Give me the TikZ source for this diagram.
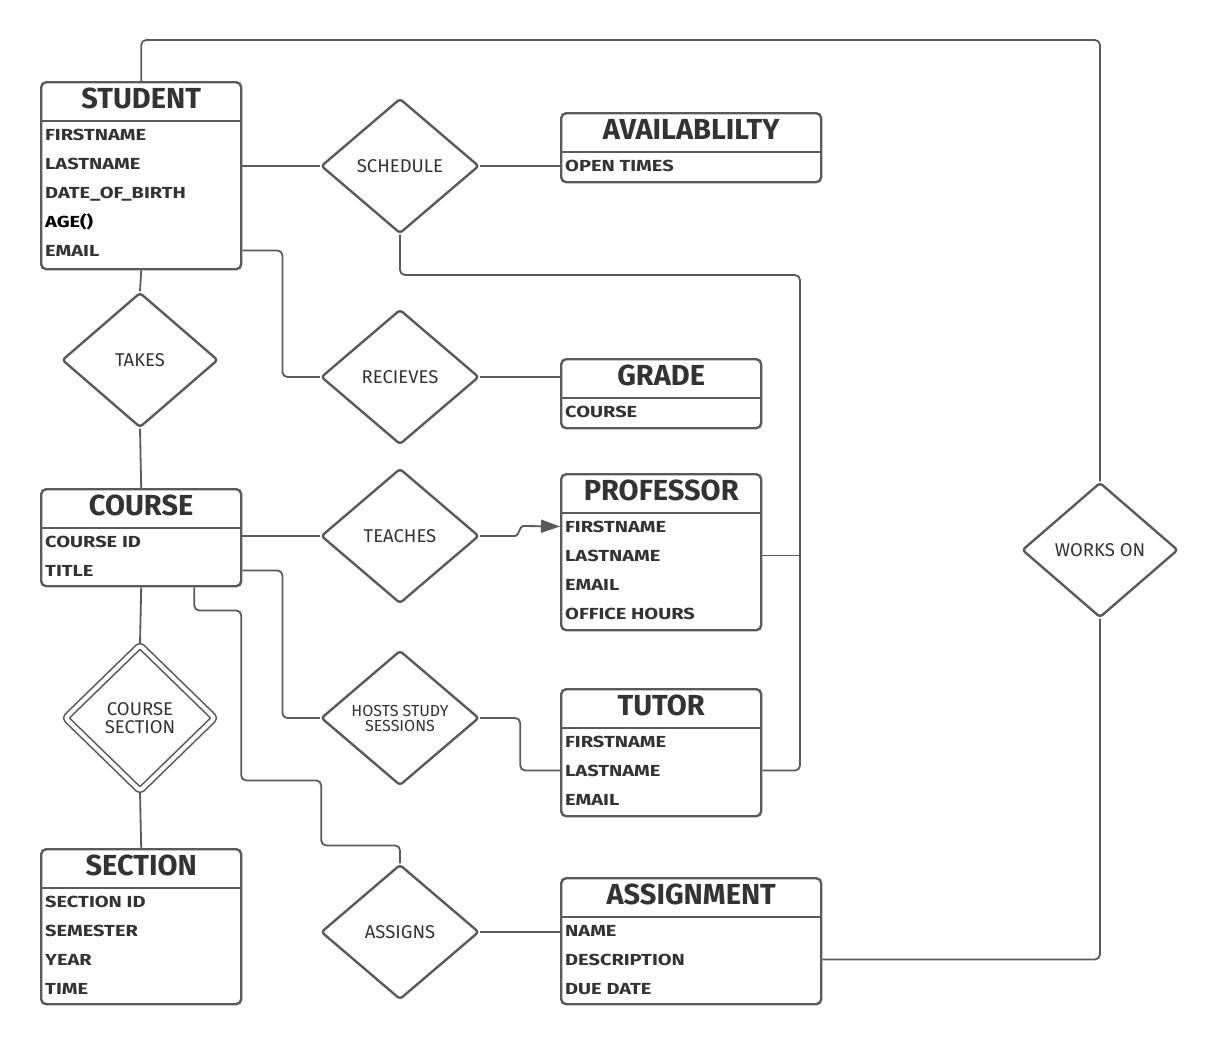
\documentclass[tikz,border=0pt]{standalone}
\usepackage{fontspec}
\setmainfont{Fira Sans}
\newfontfamily\attrfont{Fira Sans}[FakeStretch=1.25]
\usetikzlibrary{shapes.geometric,arrows.meta,calc}

\definecolor{lineGray}{HTML}{5A5A5A}
\definecolor{textGray}{HTML}{333333}

\tikzset{
  entbox/.style={rectangle, rounded corners=5pt, draw=lineGray, line width=2.4pt,
                 fill=white, anchor=north west, inner sep=0pt},
  enttitle/.style={anchor=base, inner sep=0pt, text=textGray,
                   font=\fontsize{29}{32}\selectfont\bfseries},
  entline/.style={draw=lineGray, line width=2.4pt},
  attr/.style={anchor=base west, inner sep=0pt, text=textGray,
               font=\attrfont\fontsize{16}{20}\selectfont\bfseries},
  rel/.style={diamond, rounded corners=3pt, draw=lineGray, line width=2.4pt,
              fill=white, minimum width=158, minimum height=135, inner sep=0pt,
              align=center, text=textGray, font=\fontsize{18.5}{21}\selectfont},
  conn/.style={draw=lineGray, line width=1.8pt, rounded corners=5pt},
}

% entity: name, north west corner, width, height, title, attributes
\newcommand{\entity}[6]{%
  \node[entbox, minimum width=#3, minimum height=#4] (#1) at #2 {};
  \node[enttitle] (#1-t) at ($(#1.north)+(0,27)$) {#5};
  \draw[entline] ($(#1.north west)+(0,40)$) -- ($(#1.north east)+(0,40)$);
  \foreach \a [count=\k] in {#6} {
    \node[attr] (#1-\k) at ($(#1.north west)+(5,{59+29*(\k-1)})$) {\a};
  }%
}

\begin{document}
\begin{tikzpicture}[x=1pt, y=-1pt]
  \useasboundingbox (0,0) rectangle (1220,1045);

  % entities
  \entity{student}{(40,81)}{200}{187}{STUDENT}%
    {FIRSTNAME, LASTNAME, DATE\_OF\_BIRTH, \textcolor{black}{AGE()}, EMAIL}
  \entity{avail}{(560,112)}{260}{69}{AVAILABLILTY}{OPEN TIMES}
  \entity{grade}{(560,358)}{200}{69}{GRADE}{COURSE}
  \entity{course}{(40,488)}{200}{97}{COURSE}{COURSE ID, TITLE}
  \entity{prof}{(560,473)}{200}{156}{PROFESSOR}%
    {FIRSTNAME, LASTNAME, EMAIL, OFFICE HOURS}
  \entity{tutor}{(560,688)}{200}{127}{TUTOR}{FIRSTNAME, LASTNAME, EMAIL}
  \entity{section}{(40,848)}{200}{155}{SECTION}%
    {SECTION ID, SEMESTER, YEAR, TIME}
  \entity{assign}{(560,877)}{260}{126}{ASSIGNMENT}%
    {NAME, DESCRIPTION, DUE DATE}

  % relationships
  \node[rel] (schedule) at (400,166) {SCHEDULE};
  \node[rel, minimum width=156] (takes) at (140,360) {TAKES};
  \node[rel] (recieves) at (400,377) {RECIEVES};
  \node[rel] (teaches) at (400,536) {TEACHES};
  \node[rel, minimum width=150, minimum height=146, line width=1.6pt,
        double=white, double distance=4pt] (coursesec) at (140,718)
        {COURSE\\[-3pt]SECTION};
  \node[rel, font=\fontsize{16}{18}\selectfont] (hosts) at (400,718)
        {HOSTS STUDY\\[-3pt]SESSIONS};
  \node[rel] (assigns) at (400,932) {ASSIGNS};
  \node[rel, minimum width=156] (workson) at (1100,550) {WORKS ON};

  \coordinate (topbend) at (1100,40);
  \coordinate (rightbus) at (800,275);

  % connectors
  \draw[conn] (student.north) |- (topbend) -- (workson.north);
  \draw[conn] (workson.south) |- (assign.east |- assign-2);
  \draw[conn] (student.east |- schedule.west) -- (schedule.west);
  \draw[conn] (schedule.east) -- (avail.west |- schedule.east);
  \draw[conn] (schedule.south) |- (rightbus) |- (tutor.east |- tutor-2);
  \draw[conn] (prof.east |- prof-2) -- (rightbus |- prof-2);
  \draw[conn] (student.east |- student-5) -- ++(40,0) |- (recieves.west);
  \draw[conn] (recieves.east) -- (grade.west |- recieves.east);
  \draw[conn] (student.south) -- (takes.north);
  \draw[conn] (takes.south) -- (course.north);
  \draw[conn] (course.east |- teaches.west) -- (teaches.west);
  \draw[conn, rounded corners=0pt, -{Triangle[length=19pt, width=13pt]}]
    (teaches.east) -- ++(35,0) .. controls ++(4,0) and ++(-4,0) .. ++(8,-10)
    -- (prof.west |- prof-1);
  \draw[conn] (course.east |- course-2) -- ++(40,0) |- (hosts.west);
  \draw[conn] (hosts.east) -- ++(40,0) |- (tutor.west |- tutor-2);
  \draw[conn] (course.south) -- (coursesec.north);
  \draw[conn] (coursesec.south) -- (section.north);
  \draw[conn] ($(course.south)+(53,0)$) -- ++(0,23) -- ++(47,0) -- ++(0,170)
    -- ++(80,0) -- ++(0,65) -| (assigns.north);
  \draw[conn] (assigns.east) -- (assign.west |- assigns.east);
\end{tikzpicture}
\end{document}
